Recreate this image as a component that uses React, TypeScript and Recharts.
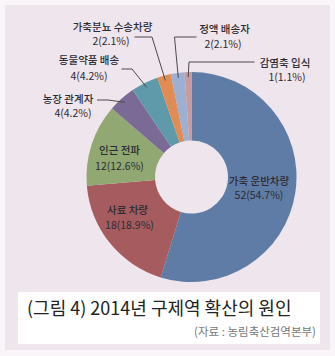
import React from 'react';
import { PieChart, Pie, Cell } from 'recharts';

const categories = ['가축 운반차량', '사료 차량', '인근 전파', '농장 관계자', '동물약품 배송', '가축분뇨 수송차량', '정액 배송자', '감염축 입식'];
const counts = [52, 18, 12, 4, 4, 2, 2, 1];
const colors = ['#5f7ca6', '#a65b5f', '#92a873', '#7b6a96', '#5f9aab', '#e28b52', '#9eb0d2', '#c89b9f'];

const titleText = '(그림 4) 2014년 구제역 확산의 원인';
const sourceText = '(자료 : 농림축산검역본부)';

// label layout relative to pie centre (inside: text centres; outside: elbow, end, text)
type Layout = {
  inside: boolean;
  t1: [number, number];
  t2: [number, number];
  elbow?: [number, number];
  end?: [number, number];
};
const labelLayout: Layout[] = [
  { inside: true, t1: [67.5, 3], t2: [67.5, 17.5] },
  { inside: true, t1: [-64, 32.5], t2: [-62, 47] },
  { inside: true, t1: [-72, -27.5], t2: [-72, -12] },
  { inside: false, t1: [-123.5, -79], t2: [-118.5, -64.5], elbow: [-83.5, -77], end: [-94.5, -77] },
  { inside: false, t1: [-102.5, -118], t2: [-102.5, -102], elbow: [-59.5, -108], end: [-70, -108] },
  { inside: false, t1: [-79, -151], t2: [-80.5, -136.5], elbow: [-39.5, -140], end: [-57, -140] },
  { inside: false, t1: [33, -149], t2: [31.5, -134], elbow: [-17, -140], end: [5, -140] },
  { inside: false, t1: [93.5, -115], t2: [95.5, -100.5], elbow: [-2.5, -115], end: [63, -115] },
];

const total = counts.reduce((a, b) => a + b, 0);
const data = categories.map((name, i) => ({ name, value: counts[i] }));

const RADIAN = Math.PI / 180;
const FONT = '"Noto Sans CJK KR", "Noto Sans", sans-serif';

const renderLabel = (props: any) => {
  const { cx, cy, midAngle, outerRadius, index, value } = props;
  const lay = labelLayout[index];
  const pct = ((value / total) * 100).toFixed(1);
  const line1 = categories[index];
  const line2 = `${value}(${pct}%)`;
  const texts = (
    <>
      <text x={cx + lay.t1[0]} y={cy + lay.t1[1]} textAnchor="middle" dominantBaseline="central"
        fontSize={10.5} fontWeight={500} fill="#2b2b33" fontFamily={FONT}>{line1}</text>
      <text x={cx + lay.t2[0]} y={cy + lay.t2[1]} textAnchor="middle" dominantBaseline="central"
        fontSize={10.5} fontWeight={400} fill="#2b2b33" fontFamily={FONT}>{line2}</text>
    </>
  );
  if (lay.inside) return <g key={`l${index}`}>{texts}</g>;
  const r = outerRadius - 5;
  const sx = cx + r * Math.cos(-midAngle * RADIAN);
  const sy = cy + r * Math.sin(-midAngle * RADIAN);
  const ex = cx + lay.elbow![0];
  const ey = cy + lay.elbow![1];
  const fx = cx + lay.end![0];
  const fy = cy + lay.end![1];
  return (
    <g key={`l${index}`}>
      <path d={`M${sx},${sy}L${ex},${ey}L${fx},${fy}`} stroke="#4a4a4a" strokeWidth={1} fill="none" />
      {texts}
    </g>
  );
};

export default function App() {
  return (
    <div style={{ position: 'absolute', left: 0, top: 0, width: 335, height: 356, background: '#f9f5f8', overflow: 'hidden' }}>
      <div style={{ position: 'absolute', left: 5, top: 5, width: 325, height: 345, background: '#efe5ec' }} />
      <div style={{ position: 'absolute', left: 0, top: 0 }}>
        <PieChart width={335} height={290}>
          <Pie
            data={data}
            dataKey="value"
            nameKey="name"
            cx={186.5}
            cy={172}
            innerRadius={36.5}
            outerRadius={105}
            startAngle={90}
            endAngle={-270}
            stroke="none"
            isAnimationActive={false}
            labelLine={false}
            label={renderLabel}
          >
            {data.map((d, i) => (
              <Cell key={d.name} fill={colors[i]} />
            ))}
          </Pie>
        </PieChart>
      </div>
      <div style={{ position: 'absolute', left: 18, top: 292, width: 302, height: 52, background: '#ffffff' }}>
        <div style={{ position: 'absolute', left: 9, top: 4, fontFamily: FONT, fontSize: 18, color: '#222', whiteSpace: 'nowrap', lineHeight: '23px' }}>
          {titleText}
        </div>
        <div style={{ position: 'absolute', right: 4, top: 31, fontFamily: FONT, fontSize: 11.5, color: '#777', whiteSpace: 'nowrap', lineHeight: '16px' }}>
          {sourceText}
        </div>
      </div>
    </div>
  );
}
